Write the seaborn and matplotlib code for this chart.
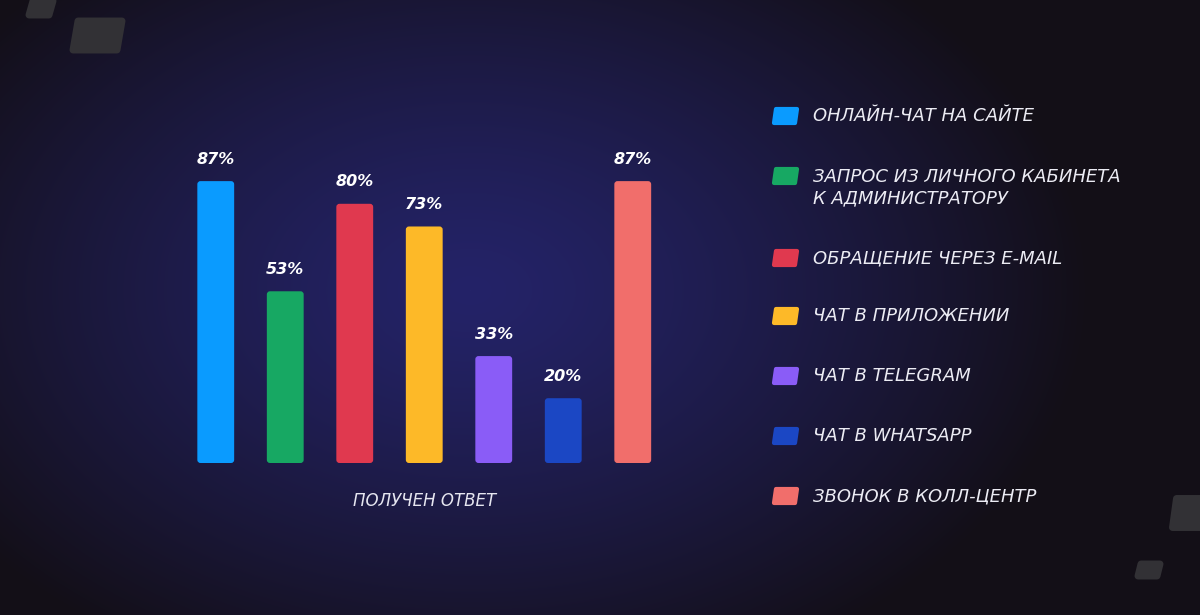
import numpy as np
import pandas as pd
import seaborn as sns
import matplotlib.pyplot as plt
from matplotlib.patches import FancyBboxPatch, Polygon

# data
channels = ['ОНЛАЙН-ЧАТ НА САЙТЕ', 'ЗАПРОС ИЗ ЛИЧНОГО КАБИНЕТА\nК АДМИНИСТРАТОРУ',
            'ОБРАЩЕНИЕ ЧЕРЕЗ E-MAIL', 'ЧАТ В ПРИЛОЖЕНИИ', 'ЧАТ В TELEGRAM',
            'ЧАТ В WHATSAPP', 'ЗВОНОК В КОЛЛ-ЦЕНТР']
answered = [87, 53, 80, 73, 33, 20, 87]
colors = ['#0a9bff', '#17a863', '#e0394f', '#fdb928', '#8a5cf7', '#1b47c4', '#f16e6b']
xlabel = 'ПОЛУЧЕН ОТВЕТ'

df = pd.DataFrame({'channel': channels, 'value': answered})

sns.set_theme(style='white')
plt.rcParams['font.family'] = ['DejaVu Sans']

W, H = 1200, 615
fig = plt.figure(figsize=(W / 100, H / 100), dpi=100)

# background: radial glow
bg = fig.add_axes([0, 0, 1, 1])
yy, xx = np.mgrid[0:H, 0:W]
d = np.sqrt(((xx - 470) / 620) ** 2 + ((yy - 290) / 420) ** 2)
t = np.clip(d, 0, 1) ** 1.3
c_in = np.array([0x24, 0x23, 0x68]) / 255
c_out = np.array([0x13, 0x0f, 0x17]) / 255
img = c_in[None, None, :] * (1 - t[..., None]) + c_out[None, None, :] * t[..., None]
bg.imshow(img, extent=[0, W, H, 0], aspect='auto')
bg.set_xlim(0, W)
bg.set_ylim(H, 0)
bg.axis('off')

# decorative grey tiles
def tile(pts, color='#323135'):
    bg.add_patch(Polygon(pts, closed=True, facecolor=color, edgecolor=color,
                         linewidth=5, joinstyle='round'))

tile([(33, 1), (53, 1), (49, 15), (29, 15)])
tile([(78, 21), (122, 21), (117, 50), (73, 50)])
tile([(1176, 498), (1200, 498), (1200, 527), (1172, 527)])
tile([(1141, 564), (1160, 564), (1157, 576), (1138, 576)])

# bar chart
ax = fig.add_axes([181 / W, 152 / H, 486.5 / W, 324 / H])
sns.barplot(data=df, x='channel', y='value', hue='channel', palette=colors,
            saturation=1, legend=False, width=0.53, ax=ax)
ax.set_xlim(-0.5, 6.5)
ax.set_ylim(0, 100)
ax.patch.set_alpha(0)
for s in ax.spines.values():
    s.set_visible(False)
ax.set_xticks([])
ax.set_yticks([])
ax.set_ylabel('')
ax.set_xlabel(xlabel, color='#e6e6f0', fontsize=12, style='italic', labelpad=21)

# rounded corners for the bars
aspect = (1 / 3.24) / (1 / 69.5)
for p in list(ax.patches):
    x0, y0, w, h = p.get_x(), p.get_y(), p.get_width(), p.get_height()
    fc = p.get_facecolor()
    p.remove()
    ax.add_patch(FancyBboxPatch((x0, y0), w, h, boxstyle='round,pad=0,rounding_size=0.045',
                                mutation_aspect=aspect, facecolor=fc, edgecolor='none'))
    ax.text(x0 + w / 2, h + 6.8, f'{int(round(h))}%', ha='center', va='center',
            color='white', fontsize=11.5, fontweight='bold', style='italic')

# legend on the right
leg_y = [116, 188, 258, 316, 376, 436, 496]
for lab, col, y in zip(channels, colors, leg_y):
    sq_y = y - 12 * lab.count('\n')
    pts = [(776, sq_y - 7), (797, sq_y - 7), (795, sq_y + 7), (774, sq_y + 7)]
    bg.add_patch(Polygon(pts, closed=True, facecolor=col, edgecolor=col,
                         linewidth=3, joinstyle='round'))
    bg.text(813, y, lab, ha='left', va='center', color='#ececf4',
            fontsize=13, style='italic', linespacing=1.25)

fig.savefig('out.png', dpi=100)
